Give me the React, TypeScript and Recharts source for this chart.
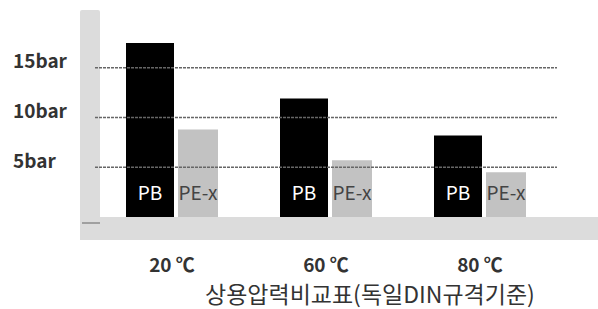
import React from 'react';
import { BarChart, Bar, XAxis, YAxis, ReferenceLine, LabelList } from 'recharts';

const categories = ['20 ℃', '60 ℃', '80 ℃'];
const seriesNames = ['PB', 'PE-x'];
const pbValues = [17.5, 11.9, 8.2];
const pexValues = [8.8, 5.7, 4.5];
const yTicks = [5, 10, 15];
const yTickLabels = ['5bar', '10bar', '15bar'];
const caption = '상용압력비교표(독일DIN규격기준)';

const data = categories.map((c, i) => ({ name: c, pb: pbValues[i], pex: pexValues[i] }));

const FONT = '"Noto Sans CJK KR", "Noto Sans", sans-serif';

const YTick = (props: any) => {
    const { y, payload } = props;
    const idx = yTicks.indexOf(payload.value);
    return (
        <text x={13} y={y - 6} dy="0.35em" textAnchor="start" fill="#333" fontFamily={FONT} fontWeight={700} fontSize={19}>
            {yTickLabels[idx]}
        </text>
    );
};

const XTick = (props: any) => {
    const { x, y, payload } = props;
    return (
        <text x={x} y={y + 47} textAnchor="middle" fill="#333" fontFamily={FONT} fontWeight={700} fontSize={19}>
            {payload.value}
        </text>
    );
};

const makeLabel = (text: string, color: string) => (props: any) => {
    const { x, y, width, height } = props;
    return (
        <text x={x + width / 2} y={y + height - 24} dy="0.35em" textAnchor="middle" fill={color} fontFamily={FONT} fontSize={19}>
            {text}
        </text>
    );
};

export default function App() {
    return (
        <div style={{ position: 'absolute', left: 0, top: 0, width: 598, height: 309, background: '#fff' }}>
            {/* gray frame behind the chart */}
            <div style={{ position: 'absolute', left: 80, top: 10, width: 20, height: 230, background: '#dcdcdc', borderRadius: 2 }} />
            <div style={{ position: 'absolute', left: 80, top: 217, width: 518, height: 23, background: '#dcdcdc' }} />
            <div style={{ position: 'absolute', left: 82, top: 222, width: 18, height: 2, background: '#a0a0a0' }} />
            <div style={{ position: 'absolute', left: 0, top: 0 }}>
                <BarChart width={598} height={309} data={data} margin={{ top: 18, right: 41, left: 0, bottom: 42 }} barGap={4} barCategoryGap={0}>
                    <XAxis dataKey="name" axisLine={false} tickLine={false} height={50} tick={<XTick />} interval={0} />
                    <YAxis domain={[0, 20]} ticks={yTicks} axisLine={false} tickLine={false} width={95} tick={<YTick />} />
                    {yTicks.map((t) => (
                        <ReferenceLine key={t} y={t} stroke="#666" strokeDasharray="3 1" strokeWidth={1.5} />
                    ))}
                    <Bar dataKey="pb" name={seriesNames[0]} fill="#000" barSize={48} isAnimationActive={false}>
                        <LabelList dataKey="pb" content={makeLabel(seriesNames[0], '#fff')} />
                    </Bar>
                    <Bar dataKey="pex" name={seriesNames[1]} fill="#c2c2c2" barSize={40} isAnimationActive={false}>
                        <LabelList dataKey="pex" content={makeLabel(seriesNames[1], '#444')} />
                    </Bar>
                </BarChart>
            </div>
            <div style={{ position: 'absolute', left: 205, top: 279, fontFamily: FONT, fontSize: 23, color: '#333', whiteSpace: 'nowrap', lineHeight: '28px' }}>
                {caption}
            </div>
        </div>
    );
}
